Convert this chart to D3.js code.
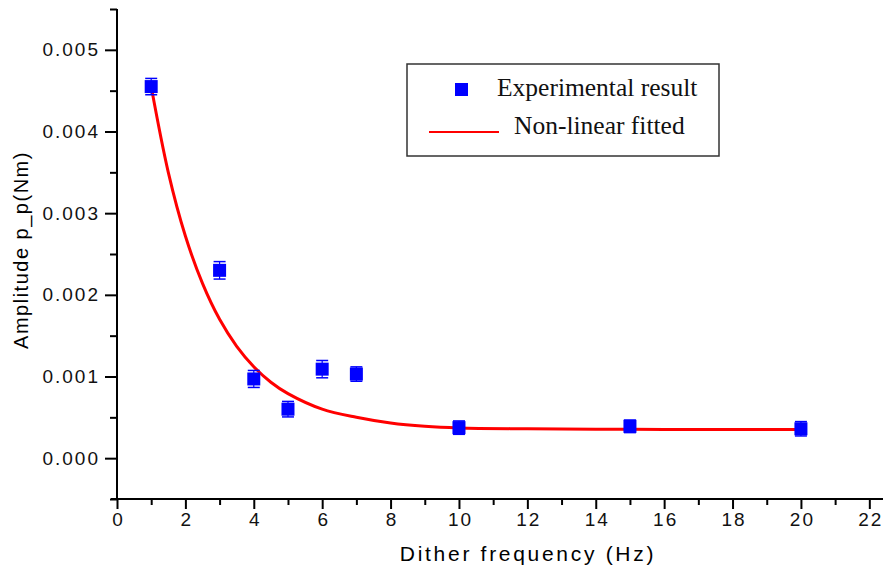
<!DOCTYPE html>
<html>
<head>
<meta charset="utf-8">
<script src="https://cdn.jsdelivr.net/npm/d3@7"></script>
<style>
  body { margin: 0; background: #fff; }
  svg { display: block; }
  .tick text { font-family: "Liberation Sans", Arial, sans-serif; font-size: 19px; letter-spacing: 2px; fill: #111; }
</style>
</head>
<body>
<div id="chart"></div>
<script>
var W = 883, H = 572;

// measured points (Hz, Nm) and their error bars
var freqs = [1, 3, 4, 5, 6, 7, 10, 15, 20];
var amps = [0.00455, 0.0023, 0.00097, 0.0006, 0.00109, 0.00103, 0.000374, 0.00039, 0.00036];
var errs = [0.0001, 0.000107, 0.000104, 0.000095, 0.000106, 0.000088, 0.000082, 0.000077, 0.000088];

// fitted curve
var fitX = [1, 1.5, 2, 2.5, 3, 3.5, 4, 4.5, 5, 6, 7, 8, 9, 10, 12, 14, 16, 18, 20];
var fitY = [0.00455, 0.0035, 0.00272, 0.00214, 0.0017, 0.00137, 0.00112, 0.00093, 0.00079, 0.0006, 0.0005, 0.00043, 0.00039, 0.00037, 0.00036, 0.000355, 0.000352, 0.00035, 0.00035];

var xTicks = [0, 2, 4, 6, 8, 10, 12, 14, 16, 18, 20, 22];
var xMinor = [1, 3, 5, 7, 9, 11, 13, 15, 17, 19, 21];
var yTicks = [0, 0.001, 0.002, 0.003, 0.004, 0.005];
var yMinor = [-0.0005, 0.0005, 0.0015, 0.0025, 0.0035, 0.0045, 0.0055];

var legendLabels = ["Experimental result", "Non-linear fitted"];

var x = d3.scaleLinear().domain([0, 22.4]).range([117, 883]);
var y = d3.scaleLinear().domain([-0.0005, 0.0055]).range([499, 9]);

var svg = d3.select("#chart").append("svg")
  .attr("width", W).attr("height", H);

// axes
var yMaj = svg.append("g").attr("transform", "translate(117,0)")
  .call(d3.axisLeft(y).tickValues(yTicks).tickSize(12).tickPadding(7).tickFormat(d3.format(".3f")));
var yMin = svg.append("g").attr("transform", "translate(117,0)")
  .call(d3.axisLeft(y).tickValues(yMinor).tickSize(7).tickFormat(""));
var xMaj = svg.append("g").attr("transform", "translate(0,499)")
  .call(d3.axisBottom(x).tickValues(xTicks).tickSize(10).tickPadding(4).tickFormat(d3.format("d")));
var xMin = svg.append("g").attr("transform", "translate(0,499)")
  .call(d3.axisBottom(x).tickValues(xMinor).tickSize(6).tickFormat(""));

[yMaj, yMin, xMaj, xMin].forEach(function(g) {
  g.select(".domain").remove();
  g.selectAll(".tick line").attr("stroke", "#000").attr("stroke-width", 2);
});
// nudge labels so the letter-spacing after the last glyph does not shift them
yMaj.selectAll(".tick text").attr("dx", 2);
xMaj.selectAll(".tick text").attr("dx", 1);

svg.append("line").attr("x1", 117).attr("x2", 117).attr("y1", 9).attr("y2", 500)
  .attr("stroke", "#000").attr("stroke-width", 2);
svg.append("line").attr("x1", 111).attr("x2", 883).attr("y1", 499).attr("y2", 499)
  .attr("stroke", "#000").attr("stroke-width", 2);

// axis titles
svg.append("text")
  .attr("x", 528).attr("y", 561)
  .attr("text-anchor", "middle")
  .style("font-family", "'Liberation Sans', Arial, sans-serif")
  .style("font-size", "21px").style("letter-spacing", "2.7px")
  .text("Dither frequency (Hz)");

svg.append("text")
  .attr("transform", "translate(28,250) rotate(-90)")
  .attr("text-anchor", "middle")
  .style("font-family", "'Liberation Sans', Arial, sans-serif")
  .style("font-size", "20px").style("letter-spacing", "1.5px")
  .text("Amplitude p_p(Nm)");

// fitted curve
var fit = fitX.map(function(d, i) { return [d, fitY[i]]; });
svg.append("path")
  .datum(fit)
  .attr("fill", "none")
  .attr("stroke", "#ff0000")
  .attr("stroke-width", 3)
  .attr("d", d3.line().x(function(d) { return x(d[0]); }).y(function(d) { return y(d[1]); })
    .curve(d3.curveCatmullRom.alpha(0.5)));

// points with error bars
var pts = svg.append("g").selectAll("g")
  .data(freqs).enter().append("g");

pts.each(function(d, i) {
  var g = d3.select(this);
  var cx = x(d), top = y(amps[i] + errs[i]), bot = y(amps[i] - errs[i]);
  g.append("line").attr("x1", cx).attr("x2", cx).attr("y1", top).attr("y2", bot)
    .attr("stroke", "#0000ff").attr("stroke-width", 1.2);
  [top, bot].forEach(function(yy) {
    g.append("line").attr("x1", cx - 6).attr("x2", cx + 6).attr("y1", yy).attr("y2", yy)
      .attr("stroke", "#0000ff").attr("stroke-width", 1.5);
  });
  g.append("rect").attr("x", cx - 6.5).attr("y", y(amps[i]) - 6.5)
    .attr("width", 13).attr("height", 13).attr("fill", "#0000ff");
});

// legend
var lg = svg.append("g");
lg.append("rect").attr("x", 407).attr("y", 64).attr("width", 312).attr("height", 92)
  .attr("fill", "none").attr("stroke", "#333").attr("stroke-width", 1.5);
lg.append("rect").attr("x", 455).attr("y", 83).attr("width", 13).attr("height", 13).attr("fill", "#0000ff");
lg.append("line").attr("x1", 429).attr("x2", 499).attr("y1", 132).attr("y2", 132)
  .attr("stroke", "#ff0000").attr("stroke-width", 2);
lg.selectAll("text.lab").data(legendLabels).enter().append("text")
  .attr("class", "lab")
  .attr("x", function(d, i) { return i === 0 ? 497 : 514; })
  .attr("y", function(d, i) { return i === 0 ? 96 : 134; })
  .style("font-family", "'Liberation Serif', 'Times New Roman', serif")
  .style("font-size", "25.5px")
  .attr("fill", "#111")
  .text(function(d) { return d; });
</script>
</body>
</html>
